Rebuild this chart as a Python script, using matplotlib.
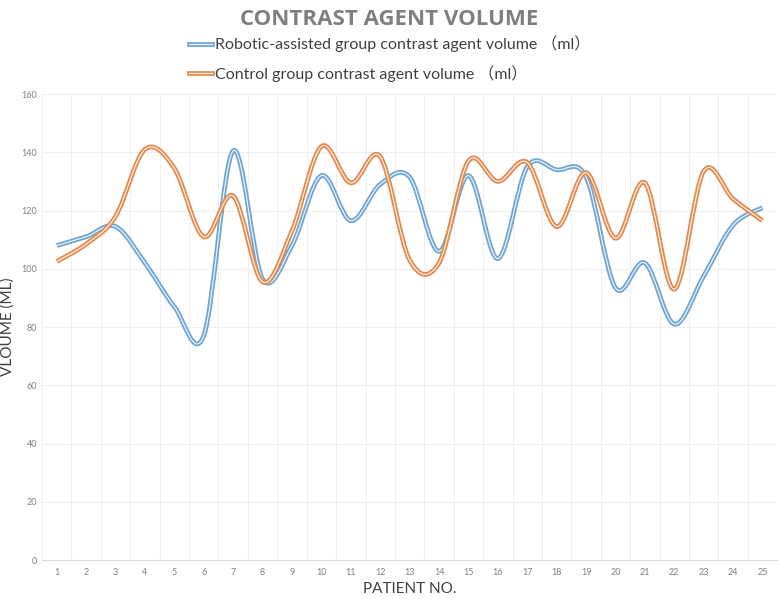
import numpy as np
import matplotlib
matplotlib.use("Agg")
import matplotlib.pyplot as plt
from matplotlib.path import Path
from matplotlib.patches import PathPatch
from matplotlib.lines import Line2D
import matplotlib.patheffects as pe

patients = list(range(1, 26))
robotic = [108, 111, 114.5, 102, 87, 77, 140.5, 96.5, 108, 132, 116.5, 129, 131.5, 106,
           132, 103.5, 135, 134, 131.5, 93.5, 102, 81, 97.5, 115, 121]
control = [102.5, 108.5, 118, 141, 134.5, 111, 125, 95.5, 113, 142, 129.5, 138.5, 103, 102,
           137, 130, 136.5, 114.5, 133, 110.5, 129.5, 93, 133.5, 124, 116.5]

label_robotic = "Robotic-assisted group contrast agent volume （ml）"
label_control = "Control group contrast agent volume （ml）"

BLUE = "#6fa6d4"
ORANGE = "#e58a4c"
FONTS = ["Lato", "Noto Sans CJK SC", "DejaVu Sans"]
plt.rcParams["font.family"] = FONTS


def smooth_path(xs, ys):
    """Excel-like smoothed line: cubic bezier through every point"""
    pts = np.column_stack([xs, ys]).astype(float)
    ext = np.vstack([pts[0], pts, pts[-1]])
    verts = [pts[0]]
    codes = [Path.MOVETO]
    for i in range(len(pts) - 1):
        p0, p1, p2, p3 = ext[i], ext[i + 1], ext[i + 2], ext[i + 3]
        c1 = p1 + (p2 - p0) / 6.0
        c2 = p2 - (p3 - p1) / 6.0
        verts += [c1, c2, p2]
        codes += [Path.CURVE4] * 3
    return Path(verts, codes)


def double_line(ax, xs, ys, color):
    patch = PathPatch(smooth_path(xs, ys), fill=False, lw=0.8, edgecolor="#f4f8fb",
                      path_effects=[pe.Stroke(linewidth=3.4, foreground=color), pe.Normal()],
                      zorder=3)
    ax.add_patch(patch)


fig = plt.figure(figsize=(7.78, 5.99), dpi=100)
ax = fig.add_axes([0.054, 0.065, 0.945, 0.778])

double_line(ax, patients, robotic, BLUE)
double_line(ax, patients, control, ORANGE)

ax.set_xlim(0.5, 25.5)
ax.set_ylim(0, 160)
ax.set_yticks(range(0, 161, 20))
ax.set_xticks(patients)
ax.set_xticks(np.arange(0.5, 26, 1), minor=True)
ax.grid(True, which="minor", axis="x", color="#efefef", lw=0.8)
ax.grid(True, which="major", axis="y", color="#efefef", lw=0.8)
ax.tick_params(which="both", length=0)
ax.tick_params(axis="both", labelsize=6.5, labelcolor="#808080")
ax.tick_params(axis="x", pad=6)
for s in ["top", "right", "left"]:
    ax.spines[s].set_visible(False)
ax.spines["bottom"].set_color("#d9d9d9")

ax.set_xlabel("PATIENT NO.", fontsize=11, color="#404040", labelpad=3)
ax.set_ylabel("VLOUME (ML)", fontsize=11, color="#404040", labelpad=5)

fig.text(0.5, 0.985, "CONTRAST AGENT VOLUME", ha="center", va="top",
         fontsize=16, fontweight="bold", color="#7f7f7f", family=["Open Sans", "DejaVu Sans"])

handles = []
for c in [BLUE, ORANGE]:
    handles.append(Line2D([], [], color="#f4f8fb", lw=0.8,
                          path_effects=[pe.Stroke(linewidth=3.4, foreground=c), pe.Normal()]))
fig.legend(handles, [label_robotic, label_control], loc="upper left",
           bbox_to_anchor=(0.235, 0.951), frameon=False, fontsize=11.5,
           handlelength=1.4, handletextpad=0.2, labelspacing=0.8,
           labelcolor="#404040", borderaxespad=0)

fig.savefig("out.png", dpi=100)
